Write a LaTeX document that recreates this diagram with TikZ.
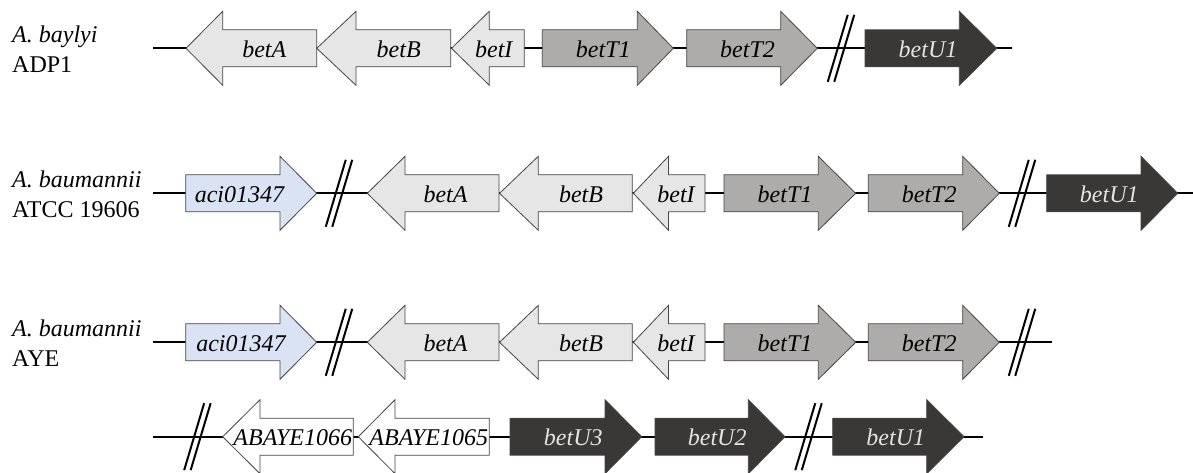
\documentclass[tikz,border=0pt]{standalone}
\usepackage{fontspec}
\setmainfont{Liberation Serif}

% fills for the gene classes
\definecolor{genelight}{HTML}{E6E6E6}
\definecolor{genemid}{HTML}{AEACAB}
\definecolor{genedark}{HTML}{3A3837}
\definecolor{geneblue}{HTML}{DAE3F3}
\definecolor{geneedge}{HTML}{454545}
\definecolor{lighttext}{HTML}{E4E4E4}

\tikzset{
  gline/.style={line width=2pt, black},
  brkline/.style={line width=2pt, black},
  genebox/.style={draw=geneedge, line width=0.8pt, line join=miter},
  glight/.style={genebox, fill=genelight},
  gmid/.style={genebox, fill=genemid},
  gdark/.style={genebox, fill=genedark},
  gblue/.style={genebox, fill=geneblue},
  gwhite/.style={genebox, fill=white},
  genelbl/.style={font=\fontsize{24}{29}\selectfont\itshape, inner sep=0pt, anchor=base},
  onlight/.style={text=black},
  ondark/.style={text=lighttext},
  species/.style={font=\fontsize{24}{29}\selectfont, inner sep=0pt, anchor=base west},
}

% gene arrow: name, y, tail x, head base x, tip x, arrow style, label style, label x, label
\newcommand\genearrow[9]{%
  \draw[#6] (#3,#2-18.5) -- (#4,#2-18.5) -- (#4,#2-37) -- (#5,#2)
        -- (#4,#2+37) -- (#4,#2+18.5) -- (#3,#2+18.5) -- cycle;
  \node[genelbl,#7] (#1) at (#8,#2+8.8) {#9};
}

% double-slash mark for a gap in the sequence: name, x, y
\newcommand\gapmark[3]{%
  \coordinate (#1) at (#2,#3);
  \draw[brkline] ([shift={(-13.25,33.5)}]#1) -- ([shift={(6.75,-33.5)}]#1);
  \draw[brkline] ([shift={(-6.75,33.5)}]#1) -- ([shift={(13.25,-33.5)}]#1);
}

\begin{document}
\begin{tikzpicture}[x=1pt,y=-1pt]
\useasboundingbox[fill=white] (0,0) rectangle (1193,472);

% ---------- species names ----------
\node[species] (sp1a) at (12,42.3) {\textit{A. baylyi}};
\node[species] (sp1b) at (12,72) {ADP1};
\node[species] (sp2a) at (12,187.3) {\textit{A. baumannii}};
\node[species] (sp2b) at (12,217.5) {ATCC 19606};
\node[species] (sp3a) at (12,336.5) {\textit{A. baumannii}};
\node[species] (sp3b) at (12,366.7) {AYE};

% ---------- backbone lines ----------
\coordinate (r1s) at (153,48.3);   \coordinate (r1e) at (1011.7,48.3);
\coordinate (r2s) at (153,193.3);  \coordinate (r2e) at (1193,193.3);
\coordinate (r3s) at (153,342.3);  \coordinate (r3e) at (1052.3,342.3);
\coordinate (r4s) at (153,436.7);  \coordinate (r4e) at (982.7,436.7);
\draw[gline] (r1s) -- (r1e);
\draw[gline] (r2s) -- (r2e);
\draw[gline] (r3s) -- (r3e);
\draw[gline] (r4s) -- (r4e);

% ---------- A. baylyi ADP1 ----------
\genearrow{a1}{48.3}{316.7}{222.7}{186}{glight}{onlight}{264.3}{betA}
\genearrow{b1}{48.3}{450.7}{356}{316.7}{glight}{onlight}{398.7}{betB}
\genearrow{i1}{48.3}{524.3}{489.3}{451.5}{glight}{onlight}{493.8}{betI}
\genearrow{t11}{48.3}{542.3}{637.3}{673.3}{gmid}{onlight}{603.3}{betT1}
\genearrow{t21}{48.3}{686.7}{780.7}{817.3}{gmid}{onlight}{747.5}{betT2}
\gapmark{g11}{841}{48.3}
\genearrow{u11}{48.3}{865}{959.3}{996.7}{gdark}{ondark}{928}{betU1}

% ---------- A. baumannii ATCC 19606 ----------
\genearrow{c2}{193.3}{185.7}{280}{316.7}{gblue}{onlight}{239.5}{aci01347}
\gapmark{g21}{339}{193.3}
\genearrow{a2}{193.3}{499}{405}{367.3}{glight}{onlight}{445.5}{betA}
\genearrow{b2}{193.3}{632.3}{538.3}{499.5}{glight}{onlight}{581}{betB}
\genearrow{i2}{193.3}{705}{668.5}{633.3}{glight}{onlight}{676}{betI}
\genearrow{t12}{193.3}{724}{818.3}{855.7}{gmid}{onlight}{785}{betT1}
\genearrow{t22}{193.3}{868.3}{962.7}{999.3}{gmid}{onlight}{929.2}{betT2}
\gapmark{g22}{1022}{193.3}
\genearrow{u12}{193.3}{1046.7}{1141}{1177.7}{gdark}{ondark}{1109.3}{betU1}

% ---------- A. baumannii AYE ----------
\genearrow{c3}{342.3}{185.7}{280}{316.7}{gblue}{onlight}{241}{aci01347}
\gapmark{g31}{339}{342.3}
\genearrow{a3}{342.3}{499}{405}{367.3}{glight}{onlight}{445.5}{betA}
\genearrow{b3}{342.3}{632.3}{538.3}{499.5}{glight}{onlight}{581}{betB}
\genearrow{i3}{342.3}{705}{668.5}{633.3}{glight}{onlight}{676}{betI}
\genearrow{t13}{342.3}{724}{818.3}{855.7}{gmid}{onlight}{785}{betT1}
\genearrow{t23}{342.3}{868.3}{962.7}{999.3}{gmid}{onlight}{929.2}{betT2}
\gapmark{g32}{1022}{342.3}

% ---------- AYE, continued ----------
\gapmark{g41}{197.4}{436.7}
\genearrow{e66}{436.7}{353.3}{260}{222.7}{gwhite}{onlight}{292.8}{ABAYE1066}
\genearrow{e65}{436.7}{489.3}{395}{358.3}{gwhite}{onlight}{428.8}{ABAYE1065}
\genearrow{u3}{436.7}{510}{605}{641.7}{gdark}{ondark}{573.3}{betU3}
\genearrow{u2}{436.7}{655}{748.3}{785}{gdark}{ondark}{717.2}{betU2}
\gapmark{g42}{808.5}{436.7}
\genearrow{u14}{436.7}{832.7}{926.7}{964}{gdark}{ondark}{895.8}{betU1}
\end{tikzpicture}
\end{document}
